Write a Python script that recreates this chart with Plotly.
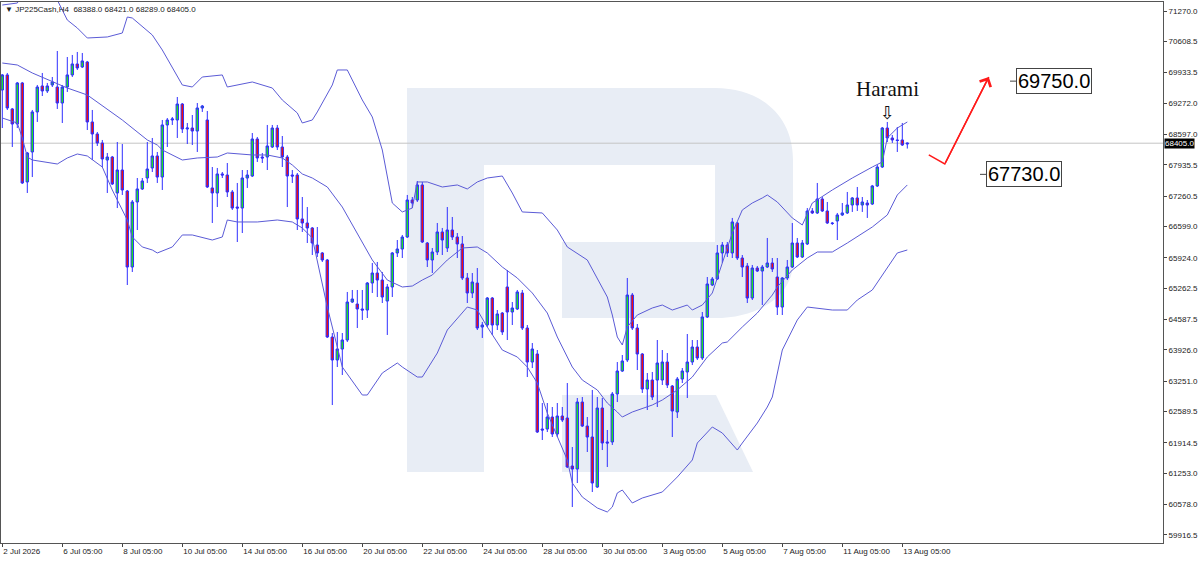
import numpy as np
import plotly.graph_objects as go

# JP225Cash H4 candles, 2 Jul 05:00 -> 13 Aug 09:00 (2026)
opens = [69558, 69884, 69147, 68821, 69710, 67565, 68215, 69082, 69645, 69537,
         69667, 69623, 69276, 69623, 69884, 70122, 70057, 70165, 68865, 68605,
         68410, 68041, 68106, 67326, 67824, 67369, 65722, 67131, 67413, 67651,
         67868, 68128, 67672, 68800, 68908, 68908, 69254, 68713, 68734, 68669,
         69168, 68908, 67435, 67326, 67738, 67716, 67348, 67022, 67000, 67651,
         67694, 68496, 68106, 68106, 68323, 68734, 68323, 68106, 67716, 67716,
         66763, 66676, 66568, 66199, 66026, 65874, 64205, 63707, 63945, 64140,
         64963, 64920, 64812, 64790, 65375, 65592, 65440, 64985, 65289, 66026,
         66112, 66372, 67174, 67174, 67500, 66242, 65874, 66047, 66481, 66134,
         66524, 66372, 66221, 65484, 65159, 65375, 64422, 64465, 65050, 64465,
         64725, 65289, 64747, 64812, 65159, 64400, 63663, 63837, 62211, 62211,
         62471, 62103, 62493, 62450, 61409, 61344, 62796, 62276, 62038, 60954,
         62666, 61930, 61930, 62970, 63468, 63707, 65115, 64400, 63837, 63078,
         63273, 63273, 63273, 63663, 63143, 62580, 63295, 63447, 63663, 63988,
         63750, 64639, 65332, 65462, 66026, 66199, 66026, 66676, 65917, 65744,
         65050, 65700, 65635, 65722, 65809, 65505, 64855, 65484, 65722, 66242,
         65939, 66221, 66936, 66893, 67196, 66936, 66676, 66720, 66850, 66893,
         67066, 67218, 67066, 67109, 67087, 67478, 67889, 68734, 68518, 68475,
         68475, 68388]

highs = [69905, 69927, 69168, 69732, 69732, 68215, 69125, 69667, 69927, 69710,
         69840, 70403, 69667, 70273, 70317, 70382, 70360, 70187, 69125, 68648,
         68475, 68193, 68128, 68431, 68388, 67391, 67174, 67651, 67651, 68431,
         68518, 68215, 68908, 68951, 68973, 69406, 69276, 68843, 69016, 69276,
         69233, 69103, 67889, 67868, 67781, 67976, 67391, 67543, 67824, 67824,
         68626, 68540, 68193, 68800, 68800, 68800, 68561, 68150, 67824, 67759,
         67239, 67022, 66589, 66589, 66047, 65896, 64292, 64314, 64292, 65181,
         65224, 65224, 65224, 65397, 65809, 65831, 65614, 65354, 66047, 66307,
         66416, 67283, 67239, 67586, 67565, 66264, 66134, 66676, 66568, 67022,
         66806, 66459, 66394, 65592, 65592, 65700, 64531, 65072, 65072, 64790,
         64747, 65657, 64963, 65224, 65224, 64465, 64075, 63923, 62775, 62775,
         62688, 62775, 62688, 63208, 61821, 62883, 62905, 62471, 63057, 62905,
         62883, 62190, 63013, 63663, 63815, 65484, 65159, 64487, 63858, 63425,
         63447, 64140, 63923, 63858, 63165, 63338, 63533, 64270, 64140, 64140,
         64747, 65505, 65505, 66199, 66264, 66264, 66785, 66698, 65982, 65809,
         65766, 65744, 65766, 66351, 65917, 65917, 65505, 65874, 66676, 66351,
         66307, 67000, 67000, 67543, 67239, 67131, 66698, 66893, 67109, 67348,
         67239, 67456, 67239, 67174, 67500, 67933, 68756, 68865, 68583, 68756,
         68843, 68421]

lows = [68734, 69125, 68323, 68734, 67521, 67326, 67672, 68865, 69428, 69493,
        69623, 69147, 68843, 69515, 69840, 69992, 70035, 68691, 68041, 68345,
        67889, 67326, 67500, 67000, 67283, 65332, 65614, 66524, 67391, 67543,
        67781, 67543, 67391, 68323, 68800, 68518, 68626, 68388, 68366, 68215,
        69082, 67435, 66676, 67022, 67651, 67239, 66958, 66264, 66459, 67435,
        67672, 67998, 67976, 67824, 68301, 68258, 67889, 67022, 67543, 66524,
        66481, 66242, 65982, 65939, 65831, 64184, 62731, 63555, 63382, 64097,
        64942, 64400, 64574, 64617, 65159, 65072, 64942, 64249, 65072, 65939,
        65917, 66351, 67000, 67131, 66242, 65722, 65592, 65982, 65982, 66047,
        66307, 65917, 65440, 64942, 65050, 64357, 64184, 64422, 64249, 64357,
        64249, 64140, 64465, 64790, 64357, 63338, 63533, 62125, 61973, 62146,
        62038, 62038, 62363, 61366, 60521, 61041, 62255, 61713, 60846, 60933,
        61756, 61388, 61865, 62796, 63447, 63663, 64357, 63490, 62992, 62623,
        62840, 62688, 63165, 63100, 62038, 62450, 63208, 62883, 63598, 63707,
        63707, 64617, 65310, 65440, 65809, 65939, 65917, 65874, 65505, 64942,
        65007, 65614, 64898, 65700, 65614, 64682, 64682, 65440, 65700, 65917,
        65917, 66199, 66871, 66871, 66915, 66655, 66633, 66307, 66828, 66871,
        66915, 66936, 66915, 66785, 67066, 67456, 67868, 68431, 68410, 68215,
        68345, 68289]

closes = [69884, 69168, 68821, 69710, 67543, 68193, 69082, 69623, 69537, 69645,
          69732, 69276, 69623, 69884, 70122, 70035, 70187, 68865, 68605, 68410,
          68063, 68106, 67521, 67824, 67391, 65722, 67131, 67413, 67586, 67846,
          68128, 67672, 68800, 68908, 68930, 69254, 68713, 68734, 68669, 69168,
          69211, 67456, 67326, 67738, 67716, 67348, 67000, 67000, 67651, 67716,
          68496, 68085, 68085, 68345, 68734, 68323, 68106, 67694, 67694, 66763,
          66676, 66568, 66242, 66026, 65874, 64205, 63707, 63945, 64140, 64963,
          65028, 64812, 64790, 65375, 65592, 65440, 65072, 65289, 66026, 66112,
          66372, 67174, 67109, 67500, 66264, 65874, 66047, 66481, 66307, 66524,
          66372, 66221, 65484, 65159, 65397, 64400, 64465, 65050, 64465, 64704,
          64314, 64747, 64834, 65181, 64400, 63663, 63945, 62146, 62190, 62471,
          62103, 62493, 62406, 61388, 61344, 62796, 62276, 62038, 61041, 62666,
          61908, 61908, 62970, 63468, 63685, 65115, 64400, 63837, 63078, 63273,
          62905, 63642, 63663, 63165, 62601, 63295, 63468, 63663, 63988, 63750,
          64639, 65354, 65462, 66026, 66199, 66026, 66698, 65917, 65722, 65050,
          65700, 65635, 65722, 65809, 65679, 64855, 65484, 65722, 66242, 65939,
          66242, 66936, 66893, 67196, 66936, 66676, 66665, 66850, 66893, 67066,
          67218, 67066, 67131, 67066, 67478, 67889, 68734, 68518, 68475, 68464,
          68366, 68405]

# Bollinger bands (bar index, price)
upper_idx = [0, 3, 5, 8, 11, 13, 15, 17, 21, 24, 25, 26, 30, 32, 36, 38, 40, 44, 45, 50,
             54, 56, 59, 60, 62, 63, 66, 67, 69, 70, 72, 74, 76, 78, 80, 82, 83, 85, 88, 91,
             93, 95, 97, 100, 102, 104, 108, 111, 113, 117, 119, 121, 122, 123, 124, 125, 127, 130, 132, 134,
             137, 138, 140, 142, 144, 146, 148, 150, 152, 153, 155, 158, 160, 162, 166, 170, 174, 176, 177, 179,
             181]
upper_val = [71400, 71443, 71833, 71768, 71508, 71075, 70902, 70685, 70707, 70793, 71140, 71118, 70750, 70425, 69667, 69623, 69840, 69884, 69623, 69732,
             69601, 69341, 69060, 68843, 68908, 69082, 69667, 69992, 69992, 69775, 69341, 68973, 68258, 67109, 66915, 67000, 67565, 67565, 67456, 67500,
             67413, 67565, 67651, 67694, 67326, 66915, 66893, 66524, 66156, 65874, 65484, 65072, 64682, 64205, 64032, 64422, 64682, 64834, 64898, 64790,
             64898, 64790, 64898, 65159, 65809, 66459, 66958, 67109, 67218, 67283, 67131, 66785, 66633, 67109, 67391, 67651, 67889, 67998, 68518, 68734,
             68865]

middle_idx = [0, 3, 6, 10, 13, 17, 22, 24, 29, 31, 32, 36, 39, 43, 45, 50, 53, 56, 58, 60,
              62, 65, 68, 71, 74, 77, 80, 82, 84, 86, 89, 92, 95, 97, 100, 103, 106, 109, 111, 114,
              116, 119, 121, 123, 124, 126, 130, 132, 135, 138, 141, 144, 145, 148, 151, 154, 155, 158, 161, 163,
              166, 169, 172, 174, 177, 179, 181]
middle_val = [70143, 70100, 69927, 69732, 69601, 69450, 69060, 68908, 68475, 68366, 68258, 68041, 68085, 68106, 68193, 68150, 68150, 68085, 67933, 67738,
              67651, 67456, 67022, 66459, 65874, 65440, 65289, 65310, 65440, 65549, 65874, 66134, 66156, 66026, 65722, 65484, 65159, 64725, 64205, 63555,
              63273, 63057, 62775, 62580, 62471, 62580, 62731, 62840, 63057, 63338, 63772, 64075, 64097, 64422, 64725, 65115, 65289, 65657, 65917, 66047,
              66047, 66242, 66459, 66589, 66850, 67283, 67500]

lower_idx = [0, 3, 4, 5, 6, 11, 13, 15, 17, 20, 22, 25, 26, 28, 30, 31, 34, 36, 38, 42,
             44, 45, 47, 51, 55, 58, 60, 62, 65, 68, 72, 73, 76, 79, 80, 83, 84, 87, 89, 91,
             93, 95, 97, 100, 103, 105, 107, 109, 111, 113, 114, 116, 119, 121, 122, 123, 124, 126, 128, 132,
             135, 138, 139, 142, 144, 147, 148, 151, 153, 154, 156, 159, 161, 166, 169, 171, 174, 177, 179, 181]
lower_val = [68951, 68843, 68518, 68106, 68041, 67954, 68085, 68171, 68128, 67889, 67391, 66741, 66373, 66156, 66091, 66026, 66156, 66416, 66416, 66307,
             66373, 66741, 66698, 66698, 66741, 66698, 66568, 66351, 64855, 63555, 62948, 62948, 63425, 63642, 63555, 63338, 63338, 63858, 64357, 64617,
             64855, 64790, 64422, 63923, 63772, 63555, 63208, 62558, 62038, 61539, 61041, 60738, 60500, 60413, 60521, 60825, 60889, 60608, 60716, 60846,
             61171, 61539, 61908, 62255, 62125, 61756, 61908, 62341, 62688, 62905, 63923, 64574, 64855, 64790, 64790, 65007, 65224, 65722, 66026, 66091]

# axis labels
price_ticks = [71270.0, 70608.5, 69933.5, 69272.0, 68597.0, 67935.5, 67260.5, 66599.0, 65924.0,
               65262.5, 64587.5, 63926.0, 63251.0, 62589.5, 61914.5, 61253.0, 60578.0, 59916.5]
date_idx = [0, 12, 24, 36, 48, 60, 72, 84, 96, 108, 120, 132, 144, 156, 168, 180]
date_text = ["2 Jul 2026", "6 Jul 05:00", "8 Jul 05:00", "10 Jul 05:00", "14 Jul 05:00", "16 Jul 05:00",
             "20 Jul 05:00", "22 Jul 05:00", "24 Jul 05:00", "28 Jul 05:00", "30 Jul 05:00", "3 Aug 05:00",
             "5 Aug 05:00", "7 Aug 05:00", "11 Aug 05:00", "13 Aug 05:00"]

last_price = 68405.0
harami_bar = 177
target_up = 69750.0
target_down = 67730.0
forecast_idx = [185.3, 188.5, 197.3]
forecast_price = [68150, 67954, 69840]

W, H = 1200, 561
ML, MR, MT, MB = 1, 37, 2, 18


def px(x):
    return (x - ML) / (W - ML - MR)


def py(y):
    return (H - MB - y) / (H - MT - MB)


bars = np.arange(len(closes))
band_color = "#5b5bd6"
wick = "#2f2fff"

fig = go.Figure()
fig.add_trace(go.Candlestick(
    x=bars, open=opens, high=highs, low=lows, close=closes,
    increasing=dict(fillcolor="#22e022", line=dict(color=wick, width=1)),
    decreasing=dict(fillcolor="#ee1010", line=dict(color=wick, width=1)),
    whiskerwidth=0, showlegend=False, hoverinfo="skip"))

for bx, by in [(upper_idx, upper_val), (middle_idx, middle_val), (lower_idx, lower_val)]:
    fig.add_trace(go.Scatter(x=bx, y=by, mode="lines", showlegend=False, hoverinfo="skip",
                             line=dict(color=band_color, width=1)))

# forecast path
fig.add_trace(go.Scatter(x=forecast_idx, y=forecast_price, mode="lines", showlegend=False,
                         hoverinfo="skip", line=dict(color="#ff1a1a", width=1.5), cliponaxis=False))

# watermark logo + price line
logo = "#e8edf5"
bowl = ("M {a},{t} L {b},{t} C {c1},{t} {r},{c2} {r},{c3} L {r},{c4} C {r},{c5} {c1},{m2} {b},{m2} "
        "L {l2},{m2} L {l2},{m1} L {b},{m1} L {b},{t2} L {s},{t2} L {s},{bt} L {a},{bt} Z").format(
    a=px(407), t=py(88), b=px(715), c1=px(760), r=px(793), c2=py(115), c3=py(160), c4=py(262),
    c5=py(295), m2=py(318), l2=px(562), m1=py(242), t2=py(165), s=px(484), bt=py(472))
leg = "M {a},{t} L {b},{t} L {c},{bt} L {a},{bt} Z".format(a=px(562), t=py(395), b=px(716), c=px(753), bt=py(472))
shapes = [
    dict(type="path", path=bowl, xref="paper", yref="paper", fillcolor=logo, line=dict(width=0), layer="below"),
    dict(type="path", path=leg, xref="paper", yref="paper", fillcolor=logo, line=dict(width=0), layer="below"),
    dict(type="line", xref="paper", yref="y", x0=0, x1=1, y0=last_price, y1=last_price,
         line=dict(color="#c4c4c4", width=1), layer="below"),
    dict(type="line", xref="paper", yref="y", x0=px(1010), x1=px(1016), y0=target_up, y1=target_up,
         line=dict(color="#444", width=1)),
    dict(type="line", xref="paper", yref="y", x0=px(980), x1=px(986), y0=target_down, y1=target_down,
         line=dict(color="#444", width=1)),
]

small = dict(family="Liberation Sans, Arial, sans-serif", size=8, color="#222")
annotations = [
    dict(x=0.002, y=1, xref="paper", yref="paper", xanchor="left", yanchor="top", showarrow=False,
         text="▼ JP225Cash,H4  68388.0 68421.0 68289.0 68405.0", font=small, yshift=-1),
    dict(x=1, y=last_price, xref="paper", yref="y", xanchor="left", yanchor="middle", showarrow=False,
         text=f"{last_price:.1f}", bgcolor="#000", font=dict(family=small["family"], size=8, color="#fff"),
         borderpad=0, xshift=1),
    dict(x=harami_bar, y=highs[harami_bar], xref="x", yref="y", yanchor="bottom", showarrow=False,
         text="⇩", font=dict(family="DejaVu Sans", size=18, color="#111"), yshift=-3),
    dict(x=harami_bar, y=highs[harami_bar], xref="x", yref="y", yanchor="bottom", showarrow=False,
         text="Harami", font=dict(family="Liberation Serif, Times New Roman, serif", size=21, color="#111"),
         yshift=19),
    dict(x=forecast_idx[2], y=forecast_price[2], ax=forecast_idx[1], ay=forecast_price[1],
         xref="x", yref="y", axref="x", ayref="y", text="", showarrow=True, arrowhead=4,
         arrowsize=1.6, arrowwidth=1.5, arrowcolor="#ff1a1a"),
    dict(x=px(1016), y=target_up, xref="paper", yref="y", xanchor="left", yanchor="middle",
         showarrow=False, text=f"{target_up:.1f}", bgcolor="#fff", bordercolor="#444", borderwidth=1,
         borderpad=1, font=dict(family="Liberation Sans, Arial, sans-serif", size=20, color="#000")),
    dict(x=px(986), y=target_down, xref="paper", yref="y", xanchor="left", yanchor="middle",
         showarrow=False, text=f"{target_down:.1f}", bgcolor="#fff", bordercolor="#444", borderwidth=1,
         borderpad=1, font=dict(family="Liberation Sans, Arial, sans-serif", size=20, color="#000")),
]

fig.update_layout(
    width=W, height=H, margin=dict(l=ML, r=MR, t=MT, b=MB),
    paper_bgcolor="#fff", plot_bgcolor="#fff",
    shapes=shapes, annotations=annotations,
    xaxis=dict(range=[-0.26, 232.14], rangeslider=dict(visible=False), showgrid=False, zeroline=False,
               tickmode="array", tickvals=date_idx, ticktext=date_text, ticks="outside", ticklen=3,
               tickcolor="#444", ticklabelposition="outside right", tickfont=small,
               showline=True, linecolor="#555", linewidth=1, mirror=True),
    yaxis=dict(range=[59741, 71465], side="right", showgrid=False, zeroline=False,
               tickmode="array", tickvals=price_ticks, ticktext=[f"{v:.1f}" for v in price_ticks],
               ticks="outside", ticklen=3, tickcolor="#444", tickfont=small,
               showline=True, linecolor="#555", linewidth=1, mirror=True),
)

# page body margin would push the fixed-size figure off the window
fig.write_html("out.html", config={"displayModeBar": False},
               post_script="document.body.style.margin='0';document.body.style.overflow='hidden';")
